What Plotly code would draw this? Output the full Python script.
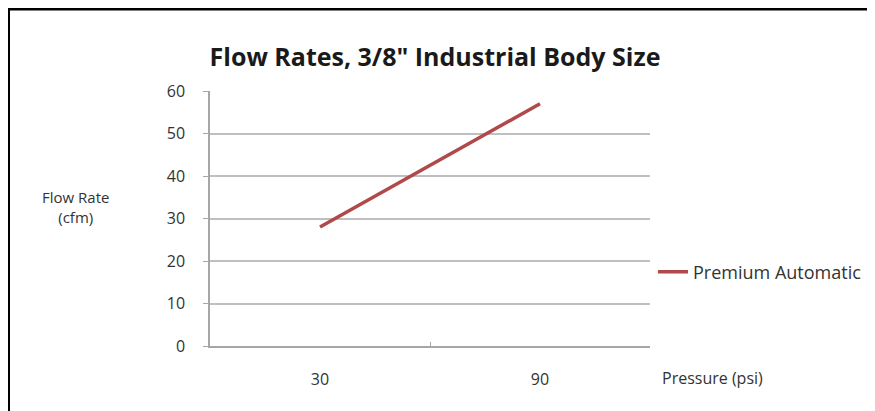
import plotly.graph_objects as go

categories = ["30", "90"]
flow_rate = [28, 57]
series_name = "Premium Automatic"
y_ticks = [0, 10, 20, 30, 40, 50, 60]

FONT = "Open Sans"
TXT = "#333333"

fig = go.Figure()
fig.add_trace(go.Scatter(
    x=categories, y=flow_rate, mode="lines", name=series_name,
    line=dict(color="#b04a4a", width=3.5),
))

# page is offset by 8px body margin; work in figure coordinates
OFF = 8
W, H = 875 - OFF, 411 - OFF
L, R, T, B = 210 - OFF, 225, 91 - OFF, 65
pw, ph = W - L - R, H - T - B

def px_x(x):
    return (x - OFF - L) / pw

def px_y(y):
    return (H - B - (y - OFF)) / ph

fig.update_layout(
    width=W, height=H,
    margin=dict(l=L, r=R, t=T, b=B, pad=0, autoexpand=False),
    paper_bgcolor="white", plot_bgcolor="white",
    font=dict(family=FONT, size=15, color=TXT),
    title=dict(text="<b>Flow Rates, 3/8\" Industrial Body Size</b>",
               x=px_x(435), xref="paper", xanchor="center",
               y=1 - (57 - OFF) / H, yanchor="middle",
               font=dict(family=FONT, size=25, color="#1a1a1a")),
    showlegend=True,
    legend=dict(x=px_x(653), y=px_y(272), xanchor="left", yanchor="middle",
                font=dict(family=FONT, size=18, color=TXT),
                bgcolor="rgba(0,0,0,0)", itemwidth=30, tracegroupgap=0),
    xaxis=dict(type="category", range=[-0.5, 1.5], showgrid=False,
               showline=True, linecolor="#a6a6a6", linewidth=1.5,
               ticks="inside", tickson="boundaries", ticklen=4, tickcolor="#a6a6a6",
               tickfont=dict(size=16, color=TXT), zeroline=False,
               ticklabelstandoff=18),
    yaxis=dict(range=[0, 60], tickvals=y_ticks, showgrid=True,
               gridcolor="#bfbfbf", gridwidth=1.5,
               showline=True, linecolor="#a6a6a6", linewidth=1.5,
               ticks="outside", ticklen=5, tickcolor="#a6a6a6",
               tickfont=dict(size=16, color=TXT), zeroline=False,
               ticklabelstandoff=15),
    annotations=[
        dict(text="Flow Rate<br>(cfm)", x=px_x(75), y=px_y(207), xref="paper", yref="paper",
             showarrow=False, xanchor="center", yanchor="middle", align="center",
             font=dict(family=FONT, size=15, color=TXT)),
        dict(text="Pressure (psi)", x=px_x(660), y=px_y(378), xref="paper", yref="paper",
             showarrow=False, xanchor="left", yanchor="middle",
             font=dict(family=FONT, size=16, color=TXT)),
    ],
    shapes=[
        dict(type="line", xref="paper", yref="paper", x0=px_x(0), x1=px_x(900),
             y0=px_y(9), y1=px_y(9), line=dict(color="black", width=3)),
        dict(type="line", xref="paper", yref="paper", x0=px_x(8.5), x1=px_x(8.5),
             y0=px_y(8), y1=px_y(420), line=dict(color="black", width=3)),
    ],
)

fig.write_html("out.html")
